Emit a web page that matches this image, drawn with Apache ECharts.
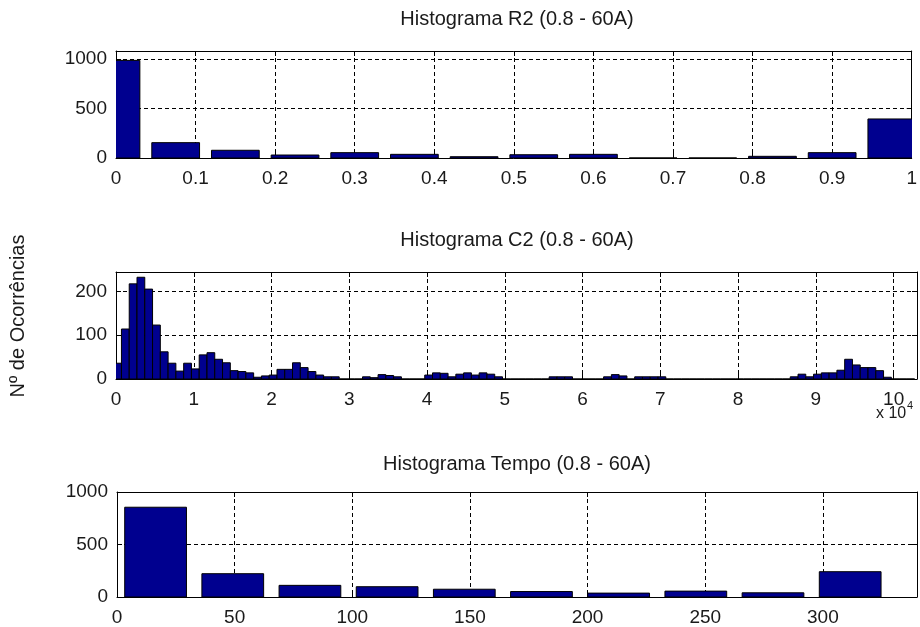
<!DOCTYPE html>
<html>
<head>
<meta charset="utf-8">
<script src="https://cdn.jsdelivr.net/npm/echarts@6/dist/echarts.min.js"></script>
<style>
  html, body { margin: 0; padding: 0; background: #fff; }
  #chart { width: 920px; height: 627px; }
</style>
</head>
<body>
<div id="chart"></div>
<script>
// ---- data ----
// R2 histogram: bin centres and counts
const r2Centers = [0, 0.075, 0.15, 0.225, 0.3, 0.375, 0.45, 0.525, 0.6, 0.675, 0.75, 0.825, 0.9, 0.975];
const r2Counts  = [985, 155, 78, 30, 54, 37, 13, 33, 37, 0, 0, 17, 54, 394];
const r2BinWidth = 0.075;

// C2 histogram: first bin centre, bin width and counts (103 bins)
const c2FirstCenter = 200;
const c2BinWidth = 1000;
const c2Counts = [
  36, 114, 217, 232, 205, 123, 62, 36, 18, 36,
  23, 55, 60, 45, 37, 19, 17, 14, 4, 7,
  9, 22, 22, 37, 26, 17, 9, 5, 5, 0,
  0, 0, 5, 3, 10, 8, 5, 0, 0, 0,
  9, 14, 13, 5, 11, 14, 9, 14, 11, 5,
  0, 0, 0, 0, 0, 0, 5, 5, 5, 0,
  0, 0, 0, 5, 10, 7, 0, 5, 5, 5,
  5, 0, 0, 0, 0, 0, 0, 0, 0, 0,
  0, 0, 0, 0, 0, 0, 0, 5, 11, 5,
  11, 14, 14, 20, 45, 32, 26, 26, 19, 4,
  0, 0, 0
];
const c2Centers = c2Counts.map((_, k) => c2FirstCenter + k * c2BinWidth);

// Tempo histogram: bin centres and counts
const tempoCenters = [16.4, 49.2, 82, 114.8, 147.6, 180.4, 213.2, 246, 278.8, 311.6];
const tempoCounts  = [855, 222, 111, 98, 74, 52, 37, 56, 40, 241];
const tempoBinWidth = 32.8;

// tick labels
const r2XTicks = ['0', '0.1', '0.2', '0.3', '0.4', '0.5', '0.6', '0.7', '0.8', '0.9', '1'];
const c2XTicks = ['0', '1', '2', '3', '4', '5', '6', '7', '8', '9', '10'];
const tempoXTicks = ['0', '50', '100', '150', '200', '250', '300'];

const titles = ['Histograma R2 (0.8 - 60A)', 'Histograma C2 (0.8 - 60A)', 'Histograma Tempo (0.8 - 60A)'];
const yName = 'Nº de Ocorrências';

// ---- style ----
const FONT = "'Liberation Sans', Arial, sans-serif";
const TXT = '#1a1a1a';
const BAR = '#00008F';

const grids = [
  { left: 116, right: 2, top: 51, height: 107 },
  { left: 116, right: 3, top: 272, height: 107 },
  { left: 117, right: 3, top: 492, height: 105 }
];

const dashed = { show: true, lineStyle: { color: '#000', width: 1, type: [4, 3] } };
const solidLine = { show: true, onZero: false, lineStyle: { color: '#000', width: 1 } };
const tickIn = { show: true, inside: true, length: 5, lineStyle: { color: '#000' } };

function labelStyle(fmt) {
  return { show: true, formatter: fmt, color: TXT, fontFamily: FONT, fontSize: 19, showMinLabel: true, showMaxLabel: true, hideOverlap: false };
}

function xPair(gi, min, max, interval, fmt) {
  return [
    { type: 'value', gridIndex: gi, position: 'bottom', min, max, interval,
      axisLine: solidLine, axisTick: tickIn, splitLine: dashed,
      axisLabel: Object.assign(labelStyle(fmt), { margin: 11 }) },
    { type: 'value', gridIndex: gi, position: 'top', min, max, interval,
      axisLine: solidLine, axisTick: tickIn, splitLine: { show: false }, axisLabel: { show: false } }
  ];
}
function yPair(gi, min, max, interval, fmt) {
  return [
    { type: 'value', gridIndex: gi, position: 'left', min, max, interval,
      axisLine: solidLine, axisTick: tickIn, splitLine: dashed,
      axisLabel: Object.assign(labelStyle(fmt), { margin: 9 }) },
    { type: 'value', gridIndex: gi, position: 'right', min, max, interval,
      axisLine: solidLine, axisTick: tickIn, splitLine: { show: false }, axisLabel: { show: false } }
  ];
}

// histogram bars drawn as rectangles through the axis scales
function histSeries(axisIdx, centers, counts, barWidth) {
  return {
    type: 'custom',
    xAxisIndex: axisIdx,
    yAxisIndex: axisIdx,
    clip: true,
    encode: { x: 0, y: 1 },
    data: centers.map((c, i) => [c, counts[i]]),
    renderItem: function (params, api) {
      const x = api.value(0), y = api.value(1);
      const p0 = api.coord([x - barWidth / 2, y]);
      const p1 = api.coord([x + barWidth / 2, 0]);
      return {
        type: 'rect',
        shape: { x: p0[0], y: p0[1], width: p1[0] - p0[0], height: p1[1] - p0[1] },
        style: { fill: BAR, stroke: '#000', lineWidth: 1 }
      };
    }
  };
}

const r2Fmt = v => { const i = Math.round(v * 10); return Math.abs(v * 10 - i) < 1e-6 ? r2XTicks[i] : ''; };
const c2Fmt = v => (v % 10000 === 0 ? c2XTicks[v / 10000] : '');
const tempoFmt = v => (v % 50 === 0 ? tempoXTicks[v / 50] : '');
const stepFmt = step => v => (v % step === 0 ? String(v) : '');

const option = {
  backgroundColor: '#fff',
  animation: false,
  title: titles.map((t, i) => ({
    text: t,
    left: 517,
    top: [9, 230, 454][i],
    textAlign: 'center',
    padding: 0,
    textStyle: { fontFamily: FONT, fontSize: 20, fontWeight: 'normal', color: TXT }
  })),
  grid: grids,
  xAxis: [].concat(
    xPair(0, 0, 1, 0.1, r2Fmt),
    xPair(1, 0, 103000, 10000, c2Fmt),
    xPair(2, 0, 340, 50, tempoFmt)
  ),
  yAxis: [].concat(
    yPair(0, 0, 1080, 500, stepFmt(500)),
    yPair(1, 0, 244, 100, stepFmt(100)),
    yPair(2, 0, 1000, 500, stepFmt(500))
  ),
  series: [
    histSeries(0, r2Centers, r2Counts, r2BinWidth * 0.8),
    histSeries(2, c2Centers, c2Counts, c2BinWidth),
    histSeries(4, tempoCenters, tempoCounts, tempoBinWidth * 0.8)
  ],
  graphic: [
    { type: 'text', x: 18, y: 316, rotation: Math.PI / 2,
      style: { text: yName, font: '20px ' + FONT, fill: TXT, align: 'center', verticalAlign: 'middle' } },
    { type: 'text', x: 876, y: 414,
      style: { text: 'x 10', font: '16px ' + FONT, fill: TXT, align: 'left', verticalAlign: 'middle' } },
    { type: 'text', x: 907, y: 406,
      style: { text: '4', font: '11px ' + FONT, fill: TXT, align: 'left', verticalAlign: 'middle' } }
  ]
};

const chart = echarts.init(document.getElementById('chart'), null, { renderer: 'canvas' });
chart.setOption(option);
</script>
</body>
</html>
